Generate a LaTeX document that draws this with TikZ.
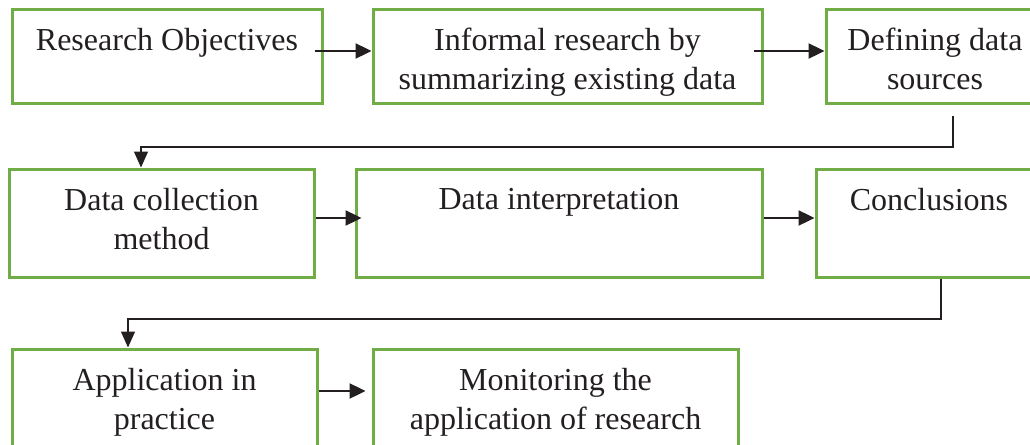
\documentclass[tikz,border=0pt]{standalone}
\usepackage{fontspec}
\setmainfont{Liberation Serif}
\usetikzlibrary{arrows.meta}
\definecolor{boxgreen}{RGB}{112, 173, 71}
\definecolor{inkblack}{RGB}{35, 31, 32}

\begin{document}
\begin{tikzpicture}[x=0.5pt, y=-0.5pt, font=\fontsize{16}{19.5}\selectfont,
  stepbox/.style={draw=boxgreen, line width=1.5pt, inner sep=0pt},
  boxtext/.style={anchor=north, yshift=-10pt, align=center, inner sep=0pt, text=inkblack},
  flow/.style={draw=inkblack, line width=1.2pt, -{Triangle[length=8pt,width=7.5pt]}},
  elbow/.style={draw=inkblack, line width=0.7pt, -{Triangle[length=8pt,width=7pt]}}]
\useasboundingbox (0,0) rectangle (1030,445);
\clip (0,0) rectangle (1030,445);
% Row 1
\node[stepbox, minimum width=155pt, minimum height=47pt,
  label={[boxtext]north:Research Objectives}] (objectives) at (167,56) {};
\node[stepbox, minimum width=194.5pt, minimum height=47pt,
  label={[boxtext]north:Informal research by\\summarizing existing data}] (informal) at (567.5,56) {};
\node[stepbox, minimum width=109pt, minimum height=47pt,
  label={[boxtext]north:Defining data\\sources}] (sources) at (935,56) {};
% Row 2
\node[stepbox, minimum width=152.5pt, minimum height=54pt,
  label={[boxtext]north:Data collection\\method}] (collection) at (161.5,223) {};
\node[stepbox, minimum width=203pt, minimum height=54pt,
  label={[boxtext]north:Data interpretation}] (interpret) at (559,223) {};
\node[stepbox, minimum width=113pt, minimum height=54pt,
  label={[boxtext]north:Conclusions}] (conclusions) at (929,223) {};
% Row 3
\node[stepbox, minimum width=152.5pt, minimum height=54pt,
  label={[boxtext]north:Application in\\practice}] (application) at (164.5,403) {};
\node[stepbox, minimum width=182.5pt, minimum height=54pt,
  label={[boxtext]north:Monitoring the\\application of research}] (monitoring) at (555.5,403) {};

% Arrows within rows
\draw[flow] ([xshift=-4.5pt,yshift=2.5pt]objectives.east) -- ([yshift=2.5pt]informal.west);
\draw[flow] ([xshift=-5pt,yshift=2.5pt]informal.east) -- ([yshift=2.5pt]sources.west);
\draw[flow] ([yshift=2.5pt]collection.east) -- ([xshift=3.5pt,yshift=2.5pt]interpret.west);
\draw[flow] ([yshift=2.5pt]interpret.east) -- ([yshift=2.5pt]conclusions.west);
\draw[flow] ([yshift=6pt]application.east) -- ([xshift=-3pt,yshift=6pt]monitoring.west);

% Row to row
\coordinate (turn1) at (141,147);
\draw[elbow] ([xshift=9pt,yshift=-5.5pt]sources.south) |- (turn1) -- (turn1 |- collection.north);
\coordinate (turn2) at (128,319);
\draw[elbow] ([xshift=6pt]conclusions.south) |- (turn2) -- (turn2 |- application.north);
\end{tikzpicture}
\end{document}
